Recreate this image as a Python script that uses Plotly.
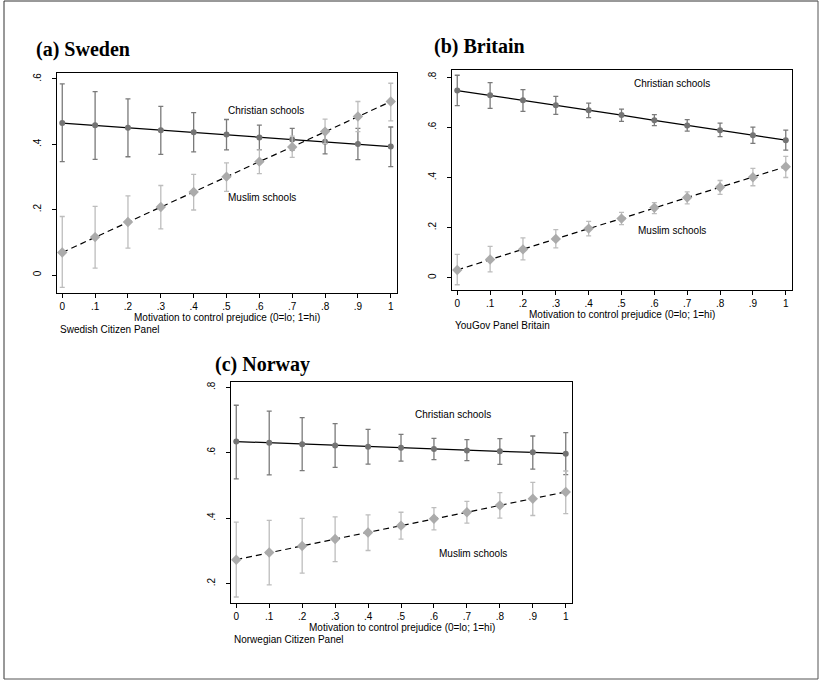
import plotly.graph_objects as go

# ---------------- data ----------------
x_vals = [0, 0.1, 0.2, 0.3, 0.4, 0.5, 0.6, 0.7, 0.8, 0.9, 1.0]
x_ticktext = ["0", ".1", ".2", ".3", ".4", ".5", ".6", ".7", ".8", ".9", "1"]

# (a) Sweden
swe_chr = [0.465, 0.458, 0.451, 0.443, 0.437, 0.430, 0.421, 0.415, 0.408, 0.401, 0.393]
swe_chr_hi = [0.585, 0.561, 0.539, 0.516, 0.497, 0.476, 0.459, 0.449, 0.445, 0.449, 0.453]
swe_chr_lo = [0.347, 0.354, 0.362, 0.369, 0.377, 0.383, 0.384, 0.382, 0.371, 0.353, 0.332]
swe_mus = [0.069, 0.116, 0.162, 0.208, 0.254, 0.301, 0.347, 0.392, 0.439, 0.485, 0.531]
swe_mus_hi = [0.179, 0.210, 0.242, 0.274, 0.308, 0.343, 0.383, 0.425, 0.477, 0.531, 0.587]
swe_mus_lo = [-0.038, 0.021, 0.082, 0.141, 0.199, 0.256, 0.310, 0.360, 0.402, 0.439, 0.472]
swe_yticks = [0, 0.2, 0.4, 0.6]
swe_yticktext = ["0", ".2", ".4", ".6"]

# (b) Britain
gb_chr = [0.747, 0.728, 0.708, 0.688, 0.668, 0.649, 0.628, 0.608, 0.589, 0.569, 0.549]
gb_chr_hi = [0.808, 0.779, 0.751, 0.724, 0.697, 0.673, 0.651, 0.631, 0.617, 0.601, 0.589]
gb_chr_lo = [0.687, 0.676, 0.664, 0.652, 0.639, 0.624, 0.607, 0.585, 0.563, 0.536, 0.509]
gb_mus = [0.031, 0.073, 0.113, 0.155, 0.196, 0.236, 0.279, 0.320, 0.361, 0.401, 0.443]
gb_mus_hi = [0.093, 0.125, 0.159, 0.192, 0.225, 0.261, 0.300, 0.343, 0.388, 0.436, 0.484]
gb_mus_lo = [-0.028, 0.023, 0.071, 0.119, 0.167, 0.212, 0.256, 0.295, 0.333, 0.367, 0.400]
gb_yticks = [0, 0.2, 0.4, 0.6, 0.8]
gb_yticktext = ["0", ".2", ".4", ".6", ".8"]

# (c) Norway
no_chr = [0.634, 0.630, 0.626, 0.622, 0.618, 0.615, 0.611, 0.607, 0.604, 0.601, 0.597]
no_chr_hi = [0.745, 0.727, 0.707, 0.689, 0.671, 0.656, 0.644, 0.640, 0.643, 0.651, 0.661]
no_chr_lo = [0.520, 0.532, 0.545, 0.555, 0.565, 0.574, 0.579, 0.576, 0.564, 0.550, 0.533]
no_mus = [0.273, 0.295, 0.315, 0.336, 0.356, 0.377, 0.398, 0.418, 0.439, 0.459, 0.480]
no_mus_hi = [0.388, 0.393, 0.399, 0.404, 0.410, 0.418, 0.432, 0.451, 0.478, 0.509, 0.544]
no_mus_lo = [0.159, 0.196, 0.232, 0.267, 0.301, 0.336, 0.364, 0.385, 0.400, 0.408, 0.414]
no_yticks = [0.2, 0.4, 0.6, 0.8]
no_yticktext = [".2", ".4", ".6", ".8"]

titles = ["(a) Sweden", "(b) Britain", "(c) Norway"]
notes = ["Swedish Citizen Panel", "YouGov Panel Britain", "Norwegian Citizen Panel"]
x_title = "Motivation to control prejudice (0=lo; 1=hi)"
lab_chr = "Christian schools"
lab_mus = "Muslim schools"

# ---------------- layout helpers ----------------
W, H = 819, 681


def px(x):
    return x / W


def py(y):
    return 1 - y / H


CHR_COL = "#747474"
MUS_COL = "#ababab"
CHR_BAR = "#7a7a7a"
MUS_BAR = "#bdbdbd"
SANS = "Liberation Sans, Arial, sans-serif"
SERIF = "Liberation Serif, Times New Roman, serif"

# plot boxes in pixels: left, top, right, bottom
boxes = [(57, 73, 397, 293), (452, 70, 792, 290), (231, 382, 572, 603)]
yranges = [(-0.0551, 0.6183), (-0.049, 0.829), (0.1406, 0.816)]
xrange_ = (-0.016, 1.019)
title_pos = [(34, 49), (432, 47), (213, 365)]
lab_pos = [((0.62, 0.505), (0.608, 0.236)),
           ((0.654, 0.777), (0.654, 0.19)),
           ((0.659, 0.718), (0.72, 0.293))]

panels = [
    (swe_chr, swe_chr_hi, swe_chr_lo, swe_mus, swe_mus_hi, swe_mus_lo, swe_yticks, swe_yticktext),
    (gb_chr, gb_chr_hi, gb_chr_lo, gb_mus, gb_mus_hi, gb_mus_lo, gb_yticks, gb_yticktext),
    (no_chr, no_chr_hi, no_chr_lo, no_mus, no_mus_hi, no_mus_lo, no_yticks, no_yticktext),
]

fig = go.Figure()
annotations = []
layout_axes = {}

for i, (c, chi, clo, m, mhi, mlo, yt, ytt) in enumerate(panels):
    k = "" if i == 0 else str(i + 1)
    xa, ya = "x" + k, "y" + k
    l, t, r, b = boxes[i]

    # lines
    fig.add_trace(go.Scatter(x=x_vals, y=c, mode="lines", xaxis=xa, yaxis=ya,
                             line=dict(color="black", width=1.2), showlegend=False, hoverinfo="skip"))
    fig.add_trace(go.Scatter(x=x_vals, y=m, mode="lines", xaxis=xa, yaxis=ya,
                             line=dict(color="black", width=1.2, dash="6px,4px"),
                             showlegend=False, hoverinfo="skip"))
    # Christian markers + CI
    fig.add_trace(go.Scatter(
        x=x_vals, y=c, mode="markers", xaxis=xa, yaxis=ya, showlegend=False,
        marker=dict(symbol="circle", size=6, color=CHR_COL),
        error_y=dict(type="data", symmetric=False,
                     array=[h - v for h, v in zip(chi, c)],
                     arrayminus=[v - lo for v, lo in zip(c, clo)],
                     color=CHR_BAR, thickness=1.3, width=2.5)))
    # Muslim markers + CI
    fig.add_trace(go.Scatter(
        x=x_vals, y=m, mode="markers", xaxis=xa, yaxis=ya, showlegend=False,
        marker=dict(symbol="diamond", size=8, color=MUS_COL),
        error_y=dict(type="data", symmetric=False,
                     array=[h - v for h, v in zip(mhi, m)],
                     arrayminus=[v - lo for v, lo in zip(m, mlo)],
                     color=MUS_BAR, thickness=1.3, width=2.5)))

    common = dict(showgrid=False, zeroline=False, showline=True, mirror=True,
                  linecolor="black", linewidth=1, ticks="outside", ticklen=4,
                  tickcolor="black", tickwidth=1,
                  tickfont=dict(family=SANS, size=10, color="black"))
    layout_axes["xaxis" + k] = dict(
        domain=[px(l), px(r)], range=list(xrange_), anchor=ya,
        tickvals=x_vals, ticktext=x_ticktext, **common)
    layout_axes["yaxis" + k] = dict(
        domain=[py(b), py(t)], range=list(yranges[i]), anchor=xa,
        tickvals=yt, ticktext=ytt, tickangle=-90, ticklabelstandoff=7, **common)

    # titles
    tx, ty = title_pos[i]
    annotations.append(dict(text="<b>" + titles[i] + "</b>", xref="paper", yref="paper",
                            x=px(tx), y=py(ty), xanchor="left", yanchor="middle",
                            showarrow=False, font=dict(family=SERIF, size=20, color="black")))
    # x axis title
    annotations.append(dict(text=x_title, xref="paper", yref="paper",
                            x=px((l + r) / 2), y=py(b + 24), xanchor="center", yanchor="middle",
                            showarrow=False, font=dict(family=SANS, size=10, color="black")))
    # note
    annotations.append(dict(text=notes[i], xref="paper", yref="paper",
                            x=px(l + 1), y=py(b + 36), xanchor="left", yanchor="middle",
                            showarrow=False, font=dict(family=SANS, size=10, color="black")))
    # series labels
    (cx, cy), (mx, my) = lab_pos[i]
    annotations.append(dict(text=lab_chr, xref=xa, yref=ya, x=cx, y=cy, showarrow=False,
                            font=dict(family=SANS, size=10, color="black")))
    annotations.append(dict(text=lab_mus, xref=xa, yref=ya, x=mx, y=my, showarrow=False,
                            font=dict(family=SANS, size=10, color="black")))

shapes = [
    dict(type="line", xref="paper", yref="paper", x0=px(4), x1=px(4), y0=py(1), y1=py(679),
         line=dict(color="#333333", width=1)),
    dict(type="line", xref="paper", yref="paper", x0=px(4), x1=px(818), y0=py(1), y1=py(1),
         line=dict(color="#333333", width=1)),
    dict(type="line", xref="paper", yref="paper", x0=px(4), x1=px(818), y0=py(679), y1=py(679),
         line=dict(color="#555555", width=1)),
    dict(type="line", xref="paper", yref="paper", x0=px(818), x1=px(818), y0=py(1), y1=py(679),
         line=dict(color="#555555", width=1)),
]

fig.update_layout(width=W, height=H, margin=dict(l=0, r=0, t=0, b=0),
                  paper_bgcolor="white", plot_bgcolor="white",
                  annotations=annotations, shapes=shapes, showlegend=False,
                  **layout_axes)

fig.write_html("out.html", config={"displayModeBar": False},
               post_script="document.body.style.margin='0px';document.body.style.overflow='hidden';")
